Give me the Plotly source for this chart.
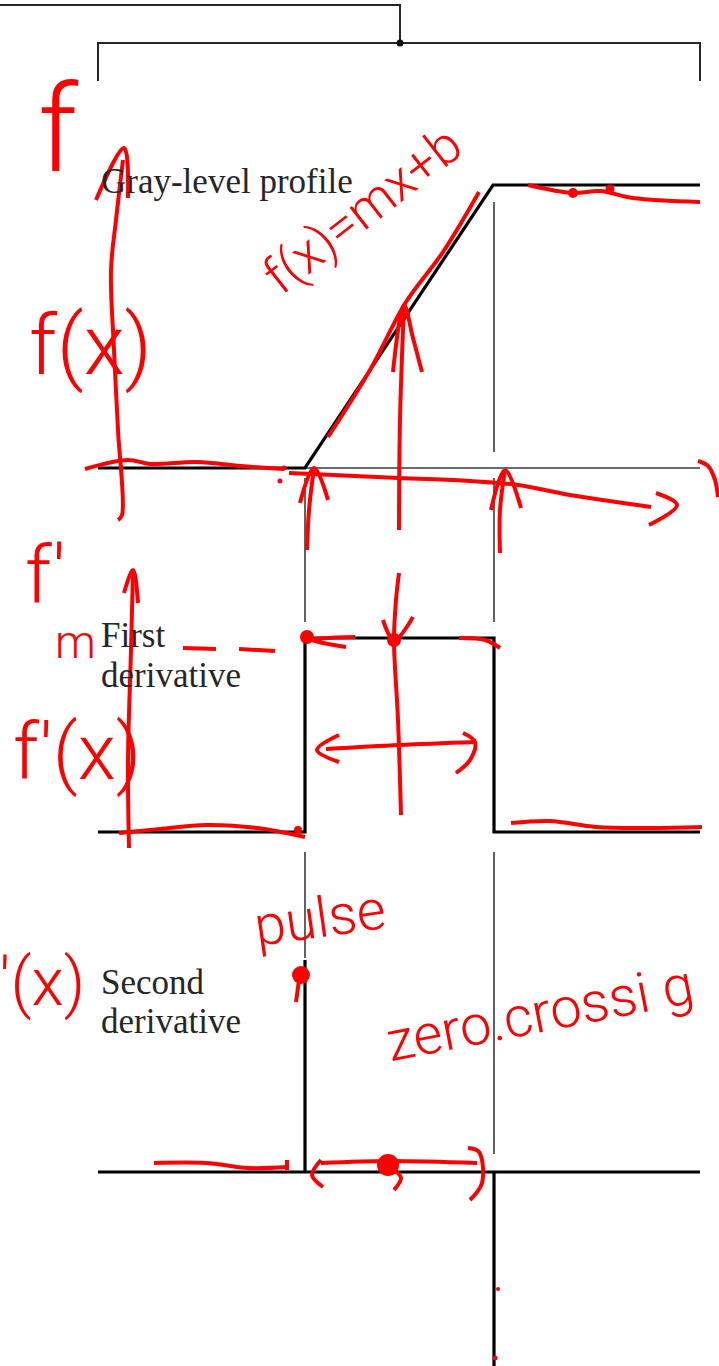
import plotly.graph_objects as go

# =========================
# DATA (pixel units of the page, y grows downward)
# =========================
# gray-level profile: flat, ramp, flat
profile_x = [98, 305, 493, 700]
profile_y = [468, 468, 185, 185]

# first derivative: a box over the ramp
first_x = [98, 305, 305, 494, 494, 700]
first_y = [832, 832, 638, 638, 832, 832]

# second derivative: baseline plus two spikes
second_base_x = [98, 700]
second_base_y = [1172, 1172]
second_pos_x = [305, 305]
second_pos_y = [960, 1172]
second_neg_x = [494, 494]
second_neg_y = [1172, 1366]

# thin guide lines
guide_segments = [
    [(305, 468), (700, 468)],
    [(494, 202), (494, 452)],
    [(305, 478), (305, 622)],
    [(494, 478), (494, 622)],
    [(305, 852), (305, 958)],
    [(494, 852), (494, 1154)],
]

# bracket on top
bracket_top = [(0, 5), (400, 5), (400, 43)]
bracket_low = [(98, 81), (98, 43), (700, 43), (700, 81)]

panel_labels = ["Gray-level profile", "First", "derivative", "Second", "derivative"]
panel_label_y = [181, 635, 675, 982, 1021]

# red hand-drawn strokes
ink_profile = [
    [(96, 200), (124, 148), (128, 198)],
    [(123, 160), (116, 220), (111, 270), (114, 350), (118, 430), (122, 515), (118, 520)],
    [(85, 469), (128, 460), (150, 464), (197, 462), (240, 466), (284, 469)],
    [(289, 473), (399, 478), (470, 481), (518, 485), (570, 495), (651, 507)],
    [(656, 493), (677, 505), (649, 525)],
    [(698, 461), (708, 466), (715, 480), (718, 497)],
    [(479, 192), (443, 252), (406, 302), (370, 370), (328, 437)],
    [(399, 530), (400, 420), (404, 305)],
    [(393, 372), (404, 305), (413, 338), (422, 372)],
    [(307, 550), (309, 510), (314, 468)],
    [(300, 503), (314, 468), (328, 500)],
    [(500, 553), (500, 510), (505, 470)],
    [(491, 510), (505, 470), (521, 508)],
    [(528, 185), (573, 193), (600, 191), (633, 198), (700, 202)],
]
ink_first = [
    [(133, 572), (131, 650), (128, 760), (129, 848)],
    [(124, 593), (133, 570), (138, 603)],
    [(183, 648), (216, 649)],
    [(239, 649), (275, 651)],
    [(355, 637), (312, 640), (346, 647)],
    [(459, 638), (485, 640), (500, 648)],
    [(399, 573), (396, 600), (394, 640), (398, 720), (401, 815)],
    [(383, 620), (394, 640), (413, 617)],
    [(326, 749), (400, 745), (475, 742)],
    [(339, 735), (317, 750), (339, 762)],
    [(463, 733), (475, 742), (470, 760), (456, 773)],
    [(119, 833), (160, 829), (206, 825), (257, 828), (305, 837)],
    [(511, 823), (550, 821), (596, 827), (650, 828), (702, 827)],
]
ink_second = [
    [(154, 1163), (206, 1163), (248, 1168), (287, 1167)],
    [(287, 1160), (287, 1170)],
    [(321, 1160), (312, 1175), (323, 1187)],
    [(321, 1163), (390, 1161), (477, 1163)],
    [(394, 1170), (401, 1178), (394, 1190)],
    [(468, 1148), (479, 1152), (482, 1183), (470, 1200)],
    [(296, 1002), (299, 980)],
]

dot_x = [573, 610, 280, 284, 307, 394, 298, 388, 301, 498, 495]
dot_y = [193, 189, 481, 468, 637, 640, 830, 1165, 975, 1289, 1358]
dot_size = [10, 9, 5, 5, 14, 14, 8, 22, 18, 4, 5]

ink_text = ["f", "f(x)", "f(x)=mx+b", "f'", "m", "f'(x)", "f''(x)", "pulse", "zero.crossi g"]
ink_text_x = [58, 90, 362, 45, 75, 77, 87, 320, 540]
ink_text_y = [130, 345, 210, 575, 642, 752, 982, 918, 1013]
ink_text_size = [120, 84, 52, 80, 46, 78, 66, 56, 56]
ink_text_angle = [0, 0, -38, 0, 0, 0, 0, -8, -11]
ink_text_anchor = ["center"] * 6 + ["right"] + ["center"] * 2


def join(strokes):
    xs, ys = [], []
    for s in strokes:
        xs += [p[0] for p in s] + [None]
        ys += [p[1] for p in s] + [None]
    return xs, ys


fig = go.Figure()

# =========================
# BLACK FIGURE
# =========================
gx, gy = join(guide_segments)
fig.add_trace(go.Scatter(x=gx, y=gy, mode="lines",
                         line=dict(color="#3a3a3a", width=1.6)))

bx, by = join([bracket_top, bracket_low])
fig.add_trace(go.Scatter(x=bx, y=by, mode="lines",
                         line=dict(color="#262626", width=2)))
fig.add_trace(go.Scatter(x=[400], y=[43], mode="markers",
                         marker=dict(color="#111", size=7, opacity=1, line=dict(width=0))))

for xs, ys in [(profile_x, profile_y), (first_x, first_y),
               (second_base_x, second_base_y), (second_pos_x, second_pos_y),
               (second_neg_x, second_neg_y)]:
    fig.add_trace(go.Scatter(x=xs, y=ys, mode="lines",
                             line=dict(color="black", width=3.2)))

for label, ly in zip(panel_labels, panel_label_y):
    fig.add_annotation(x=99, y=ly, xref="x", yref="y", text=label,
                       showarrow=False, xanchor="left", yanchor="middle",
                       font=dict(family="Liberation Serif", size=35, color="#262626"))

# =========================
# RED INK
# =========================
for strokes in [ink_profile, ink_first, ink_second]:
    rx, ry = join(strokes)
    fig.add_trace(go.Scatter(x=rx, y=ry, mode="lines",
                             line=dict(color="#ff0000", width=4, shape="spline")))

fig.add_trace(go.Scatter(x=dot_x, y=dot_y, mode="markers",
                         marker=dict(color="#ff0000", size=dot_size, opacity=1,
                                     line=dict(width=0))))

for t, tx, ty, ts, ta, anc in zip(ink_text, ink_text_x, ink_text_y,
                                  ink_text_size, ink_text_angle, ink_text_anchor):
    fig.add_annotation(x=tx, y=ty, xref="x", yref="y", text=t,
                       showarrow=False, textangle=ta, xanchor=anc, yanchor="middle",
                       font=dict(family="Roboto", size=ts, color="#ff0000", weight=300))

fig.update_layout(
    width=719, height=1366,
    margin=dict(l=0, r=0, t=0, b=0),
    paper_bgcolor="white", plot_bgcolor="white",
    showlegend=False,
    hovermode=False,
    xaxis=dict(range=[0, 719], visible=False, fixedrange=True),
    yaxis=dict(range=[1366, 0], visible=False, fixedrange=True),
)

fig.write_html("out.html", config={"displayModeBar": False},
               post_script="document.body.style.margin='0';")
